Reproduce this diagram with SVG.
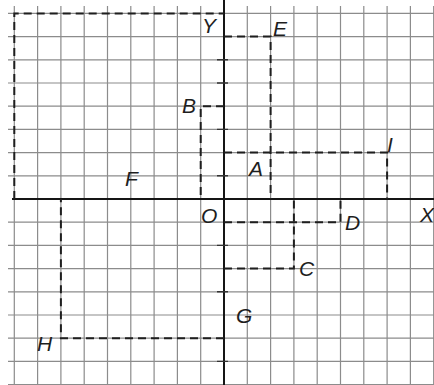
<svg xmlns="http://www.w3.org/2000/svg" width="434" height="385" viewBox="0 0 434 385">
<style>
.grid{stroke:#8c8c8c;stroke-width:1.2;fill:none}
.axis{stroke:#151515;stroke-width:2;fill:none}
.tick{stroke:#333333;stroke-width:1.4;fill:none}
.guide{stroke:#1e1e1e;stroke-width:2;fill:none;stroke-dasharray:8 5}
.lbl{font-family:"Liberation Sans",Arial,sans-serif;font-style:italic;font-size:21px;fill:#1e1e1e}
</style>
<rect width="434" height="385" fill="#ffffff"/>
<g id="grid" class="grid">
<path d="M14.3,6V385M37.6,6V385M60.9,6V385M84.2,6V385M107.5,6V385M130.8,6V385M154.1,6V385M177.4,6V385M200.7,6V385M247.3,6V385M270.6,6V385M293.9,6V385M317.2,6V385M340.5,6V385M363.8,6V385M387.1,6V385M410.4,6V385M433.7,6V385"/>
<path d="M8,13.4H434M8,36.6H434M8,59.8H434M8,83H434M8,106.2H434M8,129.4H434M8,152.6H434M8,175.8H434M8,222.2H434M8,245.4H434M8,268.6H434M8,291.8H434M8,315H434M8,338.2H434M8,361.4H434M8,384.6H434"/>
</g>
<g id="axes">
<path class="axis" d="M224,0V385"/>
<path class="axis" d="M12,199H434"/>
<path class="tick" d="M217,59.8H228M217,83H228M217,129.4H228M217,175.8H228M217,245.4H228M217,291.8H228M217,361.4H228"/>
<text class="lbl" x="202" y="33">Y</text>
<text class="lbl" x="201" y="223">O</text>
<text class="lbl" x="420" y="222">X</text>
</g>
<g id="connectors">
<path class="guide" d="M14.3,199V13.4H224"/>
<path class="guide" d="M224,36.6H270.6V199"/>
<path class="guide" d="M224,106.2H200.7V199"/>
<path class="guide" d="M224,152.6H387.1V199"/>
<path class="guide" d="M224,222.2H340.5V199"/>
<path class="guide" d="M224,268.6H293.9V199"/>
<path class="guide" d="M224,338.2H60.9V199"/>
</g>
<g id="point-E"><text class="lbl" x="273" y="36">E</text></g>
<g id="point-B"><text class="lbl" x="182" y="113">B</text></g>
<g id="point-A"><text class="lbl" x="249" y="176">A</text></g>
<g id="point-I"><text class="lbl" x="387" y="152">I</text></g>
<g id="point-F"><text class="lbl" x="125" y="186">F</text></g>
<g id="point-D"><text class="lbl" x="345" y="230">D</text></g>
<g id="point-C"><text class="lbl" x="299" y="276">C</text></g>
<g id="point-G"><text class="lbl" x="236" y="323">G</text></g>
<g id="point-H"><text class="lbl" x="37" y="351">H</text></g>
</svg>
